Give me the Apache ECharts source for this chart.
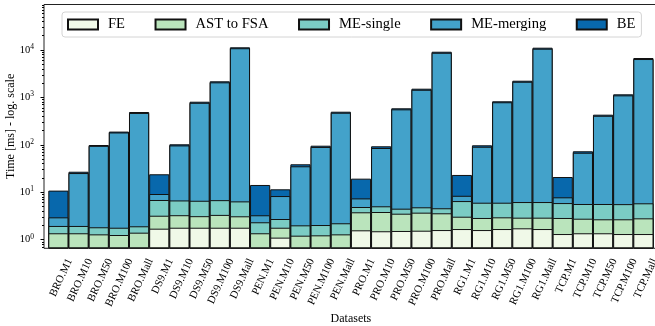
<!DOCTYPE html>
<html><head><meta charset="utf-8">
<script src="https://cdn.jsdelivr.net/npm/echarts@6/dist/echarts.min.js"></script>
<style>html,body{margin:0;padding:0;background:#fff}#c{width:655px;height:326px}</style>
</head><body><div id="c"></div>
<script>
// ---- data (times in ms, per stage) ----
const categories = ['BRO.M1','BRO.M10','BRO.M50','BRO.M100','BRO.Mall',
  'DS9.M1','DS9.M10','DS9.M50','DS9.M100','DS9.Mall',
  'PEN.M1','PEN.M10','PEN.M50','PEN.M100','PEN.Mall',
  'PRO.M1','PRO.M10','PRO.M50','PRO.M100','PRO.Mall',
  'RG1.M1','RG1.M10','RG1.M50','RG1.M100','RG1.Mall',
  'TCP.M1','TCP.M10','TCP.M50','TCP.M100','TCP.Mall'];
const feTimes = [0.4,0.4,0.4,0.4,0.4, 1.70,1.78,1.78,1.78,1.78, 0.4,1.10,0.4,0.4,0.4,
  1.57,1.50,1.52,1.54,1.59, 1.67,1.59,1.67,1.73,1.67, 1.31,1.36,1.36,1.31,1.31];
const astTimes = [0.96,0.96,0.89,0.85,1.00, 1.49,1.49,1.34,1.54,1.32, 0.96,0.68,0.81,0.83,0.89,
  2.20,2.32,2.00,2.16,2.00, 1.37,1.27,1.28,1.17,1.23, 1.55,1.40,1.32,1.37,1.50];
const meSingleTimes = [0.58,0.58,0.53,0.53,0.51, 3.66,3.43,3.48,3.48,3.30, 0.96,0.94,0.79,0.80,0.92,
  1.10,1.22,0.97,1.10,0.99, 3.46,3.14,3.05,3.30,3.30, 3.04,2.88,2.96,2.92,3.02];
const meMergingTimes = [1.01,23.4,93.2,180.2,468.1, 2.31,90.3,763.4,2073,10894, 0.94,5.58,33.2,88.0,472.8,
  2.53,80.6,555.5,1445,8745, 1.90,85.0,784,2134,10644, 1.90,62.4,404.4,1099,6444];
const beTimes = [7.85,1.7,4,8,22, 14.74,5.5,41,106,500, 10.94,3.2,3.6,5.7,24,
  11.9,7.4,29,77,450, 14.7,6.6,38,110,540, 13.1,5,22,57,330];
const seriesNames = ['FE','AST to FSA','ME-single','ME-merging','BE'];
const majorExponents = [0,1,2,3,4];

// ---- styling ----
const seriesColors = ['#f0f9e8','#bae4bc','#7bccc4','#43a2ca','#0868ac'];
const FONT = "'Liberation Serif','Times New Roman',serif";
const LOG_MIN = -0.1835, LOG_MAX = 4.96;

const segments = [feTimes, astTimes, meSingleTimes, meMergingTimes, beTimes];
const cumulative = [];
let run = categories.map(() => 0);
segments.forEach(seg => { run = run.map((r, i) => r + seg[i]); cumulative.push(run.slice()); });

const minorLogs = [];
for (let d = -1; d <= 4; d++) for (let m = 2; m <= 9; m++) {
  const l = Math.log10(m) + d;
  if (l > LOG_MIN && l < LOG_MAX) minorLogs.push(l);
}

const chart = echarts.init(document.getElementById('c'), null, {renderer: 'canvas'});
const option = {
  animation: false,
  grid: [
    {left: 48.3, right: 1.5, top: 4.5, bottom: 77.7, outerBoundsMode: 'none', containLabel: false},
    {left: 44, right: -4, top: 4.5, bottom: 77.7, outerBoundsMode: 'none', containLabel: false,
      show: true, borderColor: '#222', borderWidth: 1, backgroundColor: 'transparent'}
  ],
  legend: {
    left: 62, top: 12, z: 20,
    padding: [5, 6, 5, 5],
    itemGap: 29.5, itemWidth: 30, itemHeight: 10,
    icon: 'rect',
    backgroundColor: '#fff', borderColor: '#d4d4d4', borderWidth: 1, borderRadius: 3,
    selectedMode: false,
    textStyle: {fontFamily: FONT, fontSize: 14.6, color: '#000', padding: [0, 0, 0, 5]}
  },
  xAxis: [
    {
      type: 'category', gridIndex: 0, data: categories, boundaryGap: true,
      axisLine: {show: false},
      axisTick: {show: true, alignWithLabel: true, length: 3.5, lineStyle: {color: '#000'}},
      axisLabel: {interval: 0, rotate: 65, margin: 5.6, verticalAlign: 'top', lineHeight: 25,
        fontFamily: FONT, fontSize: 11, color: '#000'},
      splitLine: {show: false},
      name: 'Datasets', nameLocation: 'middle', nameGap: 65, nameMoveOverlap: false,
      nameTextStyle: {fontFamily: FONT, fontSize: 12, color: '#000'}
    },
    {type: 'value', gridIndex: 1, show: false, min: 0, max: 1}
  ],
  yAxis: [
    {type: 'log', gridIndex: 0, logBase: 10, min: Math.pow(10, LOG_MIN), max: Math.pow(10, LOG_MAX),
      startValue: Math.pow(10, LOG_MIN), show: false, splitLine: {show: false}},
    {type: 'value', gridIndex: 0, min: LOG_MIN, max: LOG_MAX, position: 'left', offset: 4.3,
      axisLine: {show: false},
      axisTick: {show: true, length: 3.5, customValues: majorExponents, lineStyle: {color: '#000'}},
      axisLabel: {customValues: majorExponents, margin: 10,
        formatter: v => '{b|10}{s|' + v + '}',
        rich: {b: {fontFamily: FONT, fontSize: 10.5, color: '#000'},
               s: {fontFamily: FONT, fontSize: 7.5, color: '#000', padding: [0, 0, 6, 0]}}},
      splitLine: {show: false},
      name: 'Time [ms] - log. scale', nameLocation: 'middle', nameGap: 27.5, nameMoveOverlap: false,
      nameTextStyle: {fontFamily: FONT, fontSize: 12, color: '#000'}},
    {type: 'value', gridIndex: 0, min: LOG_MIN, max: LOG_MAX, position: 'left', offset: 4.3,
      axisLine: {show: false},
      axisTick: {show: true, length: 2, customValues: minorLogs, lineStyle: {color: '#000'}},
      axisLabel: {show: false}, splitLine: {show: false}},
    {type: 'value', gridIndex: 1, show: false, min: 0, max: 1}
  ],
  series: seriesNames.map((name, k) => ({
    name, type: 'bar', xAxisIndex: 0, yAxisIndex: 0,
    data: cumulative[k],
    barWidth: '100%', barGap: '-100%',
    z: 10 - k, clip: true,
    itemStyle: {color: seriesColors[k], borderColor: '#111', borderWidth: 1},
    emphasis: {disabled: true}
  }))
};
chart.setOption(option);
</script>
</body></html>
